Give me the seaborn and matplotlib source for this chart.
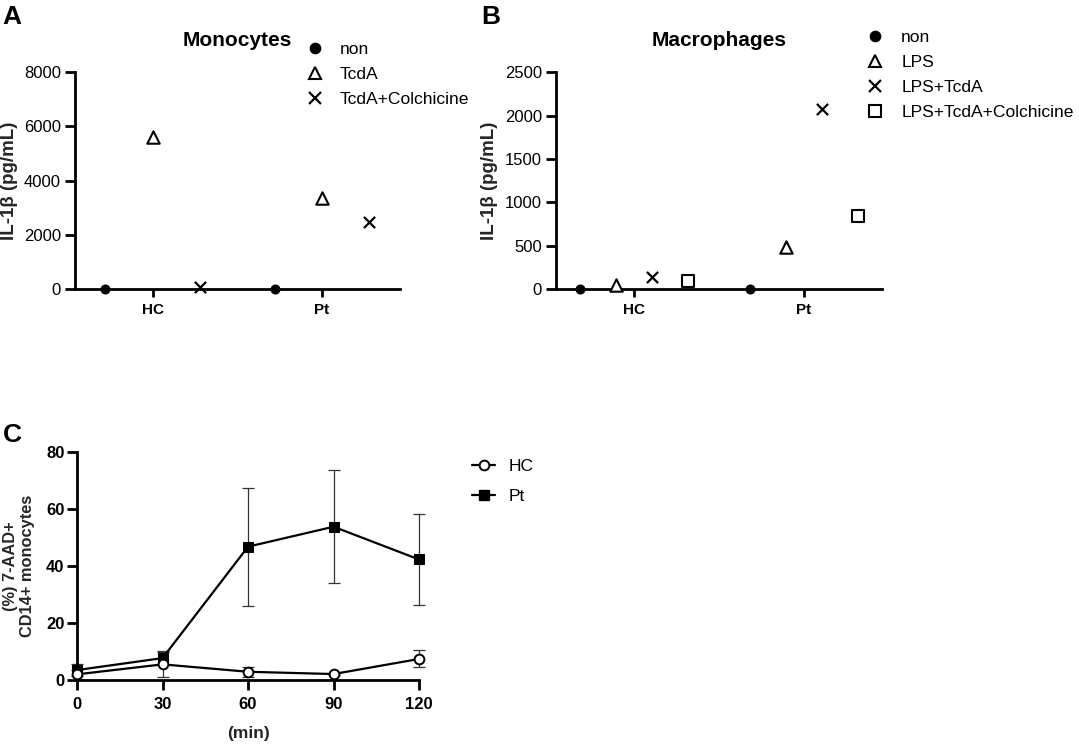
import matplotlib
matplotlib.use('Agg')
import matplotlib.pyplot as plt
from matplotlib.lines import Line2D
import seaborn as sns
import pandas as pd

# ---------------------- DATA ----------------------
groups = ['HC', 'Pt']

mono_treat = ['non', 'TcdA', 'TcdA+Colchicine']
mono_non = [0, 0]
mono_tcda = [5600, 3350]
mono_tcda_colch = [80, 2470]

macro_treat = ['non', 'LPS', 'LPS+TcdA', 'LPS+TcdA+Colchicine']
macro_non = [0, 0]
macro_lps = [45, 480]
macro_lps_tcda = [140, 2080]
macro_lps_tcda_colch = [95, 840]

time_min = [0, 30, 60, 90, 120]
hc_mean = [2.0, 5.5, 2.9, 2.1, 7.4]
hc_err = [1.5, 4.5, 1.8, 0.5, 3.0]
pt_mean = [3.5, 7.7, 46.8, 53.8, 42.3]
pt_err = [2.0, 2.5, 20.7, 19.8, 16.0]

# ---------------------- STYLE ----------------------
sns.set_theme(style="ticks")
plt.rcParams['font.family'] = ['Liberation Sans', 'DejaVu Sans']
plt.rcParams['axes.linewidth'] = 2
plt.rcParams['xtick.major.width'] = 2
plt.rcParams['ytick.major.width'] = 2
plt.rcParams['axes.edgecolor'] = 'black'
plt.rcParams['xtick.color'] = 'black'
plt.rcParams['ytick.color'] = 'black'
plt.rcParams['text.color'] = 'black'

marker_styles = {
    'o': dict(marker='o', color='black', s=52, linewidth=0),
    '^': dict(marker='^', facecolor='white', edgecolor='black', s=80, linewidth=1.5),
    'x': dict(marker='x', color='black', s=65, linewidth=1.6),
    's': dict(marker='s', facecolor='white', edgecolor='black', s=80, linewidth=1.5),
}

fig = plt.figure(figsize=(10.79, 7.45), dpi=100)


def legend_handle(m):
    if m in ('^', 's'):
        return Line2D([], [], marker=m, linestyle='none', markerfacecolor='white',
                      markeredgecolor='black', markeredgewidth=1.5, markersize=8.8)
    if m == 'x':
        return Line2D([], [], marker='x', linestyle='none', color='black',
                      markeredgewidth=1.6, markersize=8.2)
    return Line2D([], [], marker='o', linestyle='none', color='black', markersize=7.4)


def dot_panel(ax, series, names, marks, step, ymax, yticks, title):
    n = len(series)
    for j, (vals, name, m) in enumerate(zip(series, names, marks)):
        xs = [g + (j - (n - 1) / 2) * step for g in range(len(groups))]
        d = pd.DataFrame({'x': xs, 'y': vals})
        sns.scatterplot(data=d, x='x', y='y', ax=ax, clip_on=False, zorder=4,
                        legend=False, **marker_styles[m])
    ax.set_xlim(-0.46, 1.46)
    ax.set_ylim(0, ymax)
    ax.set_yticks(yticks)
    ax.set_xticks(range(len(groups)))
    ax.set_xticklabels(groups, fontweight='bold', fontsize=11)
    ax.tick_params(axis='y', labelsize=12, length=7, pad=3)
    ax.tick_params(axis='x', length=6, pad=4)
    ax.set_xlabel('')
    ax.set_ylabel('IL-1β (pg/mL)', fontweight='bold', fontsize=13.5)
    ax.set_title(title, fontweight='bold', fontsize=15, pad=19)
    sns.despine(ax=ax)


# =========================================================
# A. Monocytes
# =========================================================
axA = fig.add_axes([0.0695, 0.612, 0.301, 0.291])
dot_panel(axA, [mono_non, mono_tcda, mono_tcda_colch], mono_treat, ['o', '^', 'x'],
          0.28, 8000, [0, 2000, 4000, 6000, 8000], 'Monocytes')
axA.yaxis.set_label_coords(-0.175, 0.5)
fig.legend([legend_handle(m) for m in ['o', '^', 'x']], mono_treat,
           loc='upper left', bbox_to_anchor=(0.2836, 0.944), frameon=False,
           fontsize=12.6, handlelength=1, handletextpad=0.94, labelspacing=0.56,
           borderpad=0, borderaxespad=0)

# =========================================================
# B. Macrophages
# =========================================================
axB = fig.add_axes([0.5153, 0.612, 0.302, 0.291])
dot_panel(axB, [macro_non, macro_lps, macro_lps_tcda, macro_lps_tcda_colch], macro_treat,
          ['o', '^', 'x', 's'], 0.213, 2500, [0, 500, 1000, 1500, 2000, 2500], 'Macrophages')
axB.yaxis.set_label_coords(-0.178, 0.5)
fig.legend([legend_handle(m) for m in ['o', '^', 'x', 's']], macro_treat,
           loc='upper left', bbox_to_anchor=(0.8028, 0.960), frameon=False,
           fontsize=12.6, handlelength=1, handletextpad=1.0, labelspacing=0.56,
           borderpad=0, borderaxespad=0)

# =========================================================
# C. 7-AAD+ monocytes over time
# =========================================================
axC = fig.add_axes([0.0714, 0.0872, 0.317, 0.306])
time_df = pd.DataFrame({
    'time': time_min * 2,
    'value': hc_mean + pt_mean,
    'group': ['HC'] * len(time_min) + ['Pt'] * len(time_min),
})
axC.errorbar(time_min, pt_mean, yerr=pt_err, fmt='none', ecolor='#333333',
             elinewidth=0.9, capsize=4.5, capthick=0.9, zorder=2, clip_on=False)
axC.errorbar(time_min, hc_mean, yerr=hc_err, fmt='none', ecolor='#333333',
             elinewidth=0.9, capsize=4.5, capthick=0.9, zorder=2, clip_on=False)
sns.lineplot(data=time_df[time_df['group'] == 'Pt'], x='time', y='value', ax=axC,
             color='black', linewidth=1.6, marker='s', markersize=6.5,
             markerfacecolor='black', markeredgecolor='black', clip_on=False, zorder=3)
sns.lineplot(data=time_df[time_df['group'] == 'HC'], x='time', y='value', ax=axC,
             color='black', linewidth=1.6, marker='o', markersize=7,
             markerfacecolor='white', markeredgecolor='black', markeredgewidth=1.4,
             clip_on=False, zorder=4)
axC.set_xlim(0, 120)
axC.set_ylim(0, 80)
axC.set_xticks(time_min)
axC.set_yticks([0, 20, 40, 60, 80])
for lab in axC.get_xticklabels() + axC.get_yticklabels():
    lab.set_fontweight('bold')
axC.tick_params(axis='y', labelsize=12, length=7, pad=2)
axC.tick_params(axis='x', labelsize=12, length=7, pad=5)
axC.set_xlabel('(min)', fontweight='bold', fontsize=12.5, labelpad=10)
axC.set_ylabel('(%) 7-AAD+\nCD14+ monocytes', fontweight='bold', fontsize=11.8)
axC.yaxis.set_label_coords(-0.123, 0.5)
sns.despine(ax=axC)

hc_handle = Line2D([], [], color='black', linewidth=1.6, marker='o', markersize=7,
                   markerfacecolor='white', markeredgecolor='black', markeredgewidth=1.4)
pt_handle = Line2D([], [], color='black', linewidth=1.6, marker='s', markersize=6.5,
                   markerfacecolor='black')
fig.legend([hc_handle, pt_handle], ['HC', 'Pt'], loc='upper left',
           bbox_to_anchor=(0.4375, 0.384), frameon=False, fontsize=12.5,
           handlelength=1.32, handletextpad=0.8, labelspacing=0.83,
           borderpad=0, borderaxespad=0)

# ---------------------- PANEL LETTERS ----------------------
fig.text(0.002, 0.993, 'A', fontsize=19, fontweight='bold', va='top')
fig.text(0.446, 0.993, 'B', fontsize=19, fontweight='bold', va='top')
fig.text(0.003, 0.432, 'C', fontsize=19, fontweight='bold', va='top')

plt.savefig('out.png', dpi=100)
